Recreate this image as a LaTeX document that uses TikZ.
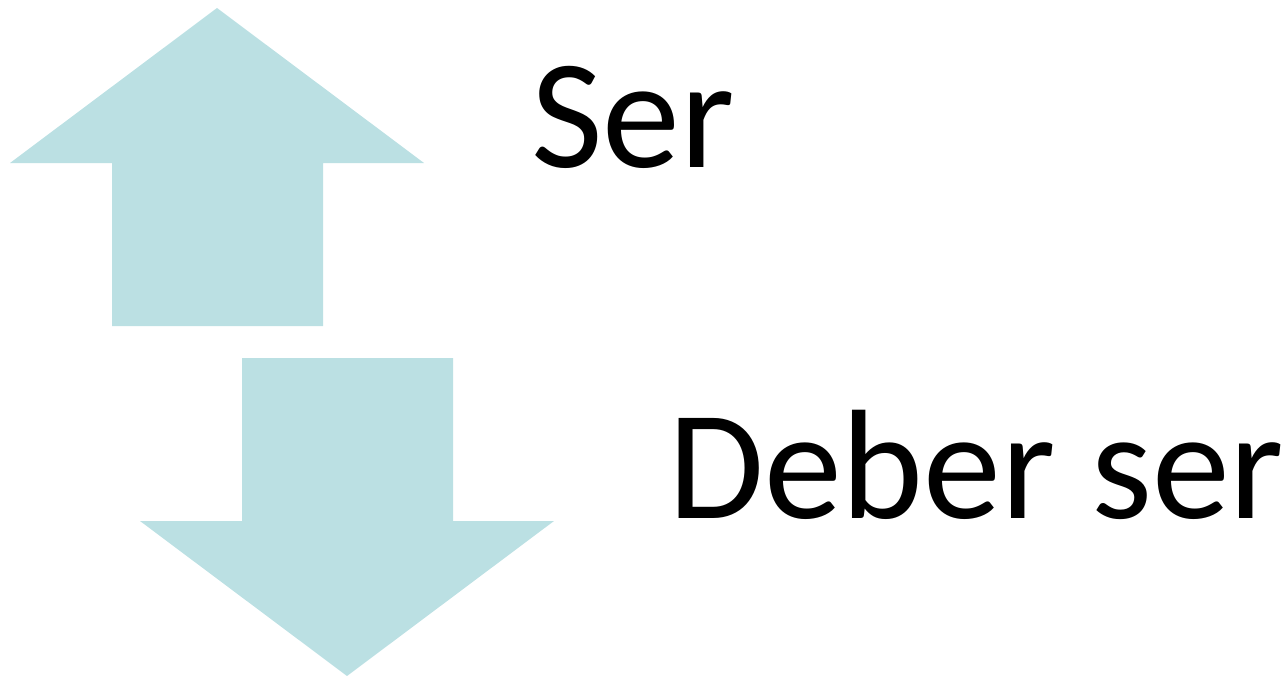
\documentclass[tikz,border=0pt]{standalone}
\usepackage{fontspec}
\setmainfont{Carlito}
\definecolor{arrowfill}{HTML}{BBE0E3}
\begin{document}
\begin{tikzpicture}[x=1pt,y=-1pt,
  blockarrow/.style={fill=arrowfill,draw=none},
  label/.style={inner sep=0pt,anchor=base west,font=\fontsize{156}{164}\selectfont}]
\useasboundingbox (0,0) rectangle (1282,677);
% upward block arrow
\fill[blockarrow] (217,8) -- (424,163) -- (323,163) -- (323,326) -- (112,326)
  -- (112,163) -- (10,163) -- cycle;
% downward block arrow
\fill[blockarrow] (242,358) -- (453,358) -- (453,521) -- (554,521) -- (347,676)
  -- (140,521) -- (242,521) -- cycle;
\node[label] (ser) at (531,167) {Ser};
\node[label] (deber) at (668,518) {Deber ser};
\end{tikzpicture}
\end{document}
